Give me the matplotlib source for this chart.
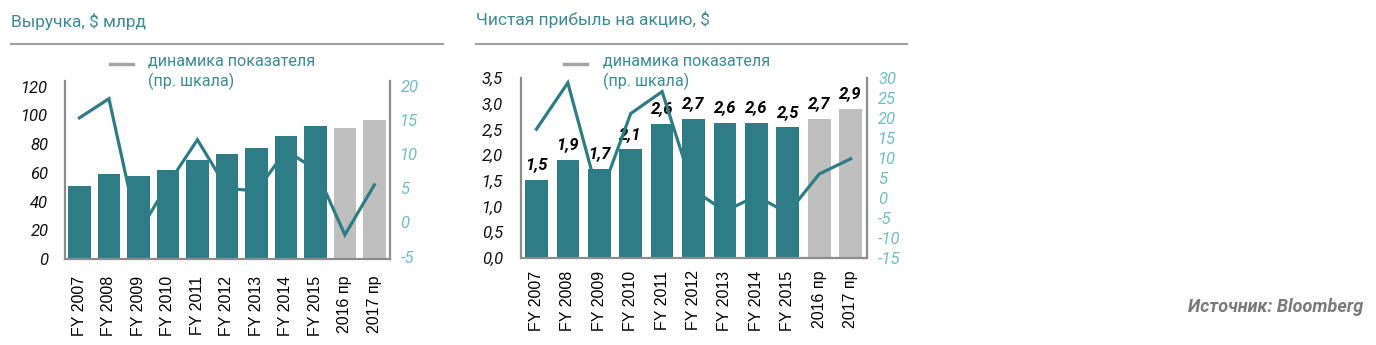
import matplotlib
matplotlib.use("Agg")
import matplotlib.pyplot as plt
from matplotlib.lines import Line2D

# ---- data ----
categories = ["FY 2007", "FY 2008", "FY 2009", "FY 2010", "FY 2011", "FY 2012",
              "FY 2013", "FY 2014", "FY 2015", "2016 пр", "2017 пр"]
is_forecast = [False] * 9 + [True, True]

revenue = [51, 59, 58, 62, 69, 73, 77, 86, 93, 91, 97]            # $ bn
revenue_growth = [15.3, 18.1, -1.5, 5.6, 12.1, 5.0, 4.6, 10.5, 7.8, -1.8, 5.5]  # %

eps = [1.52, 1.91, 1.74, 2.12, 2.61, 2.71, 2.63, 2.63, 2.54, 2.71, 2.90]  # $
eps_growth = [17.2, 28.8, -0.3, 21.1, 26.6, 2.0, -3.3, 0.5, -3.8, 6.0, 9.8]  # %

rev_left_ticks = [0, 20, 40, 60, 80, 100, 120]
rev_right_ticks = [-5, 0, 5, 10, 15, 20]
eps_left_ticks = [0.0, 0.5, 1.0, 1.5, 2.0, 2.5, 3.0, 3.5]
eps_right_ticks = [-15, -10, -5, 0, 5, 10, 15, 20, 25, 30]

# ---- style ----
TEAL = "#2E7D86"
GREY_BAR = "#BFBFBF"
TITLE_C = "#3A8C92"
RIGHT_TICK_C = "#6DBFC4"
SPINE_C = "#8C8C8C"
W, H = 1376, 345

plt.rcParams["font.family"] = ["Roboto", "DejaVu Sans"]

fig = plt.figure(figsize=(W / 100, H / 100), dpi=100)
fig.patch.set_facecolor("white")


def px_rect(left, top, right, bottom):
    return [left / W, (H - bottom) / H, (right - left) / W, (bottom - top) / H]


def fmt_comma(v, decimals):
    return f"{v:.{decimals}f}".replace(".", ",")


def panel(rect, values, growth, left_ticks, right_ticks, left_ylim, right_ylim,
          xlim, bar_w, left_dec, left_pad, right_pad, x_pad, value_labels):
    ax = fig.add_axes(rect)
    ax2 = ax.twinx()
    # actual-year bars sit above the growth line, forecast bars below it
    ax.set_zorder(ax2.get_zorder() + 1)
    ax.patch.set_visible(False)

    x = list(range(len(categories)))
    xa = [xi for xi, f in zip(x, is_forecast) if not f]
    va_ = [v for v, f in zip(values, is_forecast) if not f]
    xf = [xi for xi, f in zip(x, is_forecast) if f]
    vf = [v for v, f in zip(values, is_forecast) if f]

    ax.bar(xa, va_, width=bar_w, color=TEAL, zorder=2)
    ax2.bar(xf, vf, width=bar_w, color=GREY_BAR, zorder=1,
            transform=ax.transData)
    ax2.plot(x, growth, color=TEAL, lw=2.3, zorder=3, solid_joinstyle="miter")

    ax.set_xlim(*xlim)
    ax.set_ylim(*left_ylim)
    ax2.set_ylim(*right_ylim)

    ax.set_yticks(left_ticks)
    ax.set_yticklabels([fmt_comma(t, left_dec) for t in left_ticks],
                       fontsize=12, fontstyle="italic", color="#111111")
    ax2.set_yticks(right_ticks)
    ax2.set_yticklabels([str(t) for t in right_ticks], fontsize=12,
                        fontstyle="italic", color=RIGHT_TICK_C)
    ax.set_xticks(x)
    ax.set_xticklabels(categories, rotation=90, fontsize=11.5,
                       family=["Liberation Sans", "DejaVu Sans"])
    ax.tick_params(axis="y", length=0, pad=left_pad)
    ax.tick_params(axis="x", length=0, pad=x_pad)
    ax2.tick_params(axis="y", length=0, pad=right_pad)

    for a in (ax, ax2):
        for s in a.spines.values():
            s.set_visible(False)
    for s in ("left", "bottom"):
        ax.spines[s].set_visible(True)
        ax.spines[s].set_color(SPINE_C)
        ax.spines[s].set_linewidth(1.6)
    ax2.spines["right"].set_visible(True)
    ax2.spines["right"].set_color(SPINE_C)
    ax2.spines["right"].set_linewidth(1.6)

    if value_labels:
        for xi, v in zip(x, values):
            ax2.annotate(fmt_comma(v, 1), xy=(xi, v), xycoords=ax.transData,
                         xytext=(0, 7.5), textcoords="offset points",
                         ha="center", va="baseline", fontsize=12,
                         fontweight="bold", fontstyle="italic", color="black",
                         zorder=2)
    return ax, ax2


# revenue panel
panel(px_rect(65, 81, 390, 259), revenue, revenue_growth,
      rev_left_ticks, rev_right_ticks, (0, 124), (-5.34, 20.69),
      (-0.49, 10.53), 0.76, 0, 12, 7.5, 12, False)

# EPS panel
panel(px_rect(521, 78, 867, 258), eps, eps_growth,
      eps_left_ticks, eps_right_ticks, (0, 3.5), (-15, 30),
      (-0.49, 10.52), 0.72, 1, 13, 8, 9, True)

# titles with rules underneath
fig.text(11 / W, 1 - 21 / H, "Выручка, $ млрд", fontsize=12.5, color=TITLE_C,
         ha="left", va="center")
fig.text(476 / W, 1 - 19 / H, "Чистая прибыль на акцию, $", fontsize=12.5,
         color=TITLE_C, ha="left", va="center")
for x0, x1 in ((11, 443), (476, 907)):
    fig.add_artist(Line2D([x0 / W, x1 / W], [1 - 43.7 / H] * 2,
                          color="#A0A0A0", lw=1.5))

# legends
for dash_x0, text_x in ((110, 148), (564, 603)):
    fig.add_artist(Line2D([dash_x0 / W, (dash_x0 + 23) / W], [1 - 64 / H] * 2,
                          color="#A6A6A6", lw=2.5))
    fig.text(text_x / W, 1 - 53 / H, "динамика показателя\n(пр. шкала)",
             fontsize=11.6, color=TITLE_C, ha="left", va="top", linespacing=1.35)

fig.text(1363 / W, 1 - 307 / H, "Источник: Bloomberg", fontsize=13,
         fontweight="bold", fontstyle="italic", color="#7A7A7A",
         ha="right", va="center")

fig.savefig("out.png", dpi=100, facecolor="white")
